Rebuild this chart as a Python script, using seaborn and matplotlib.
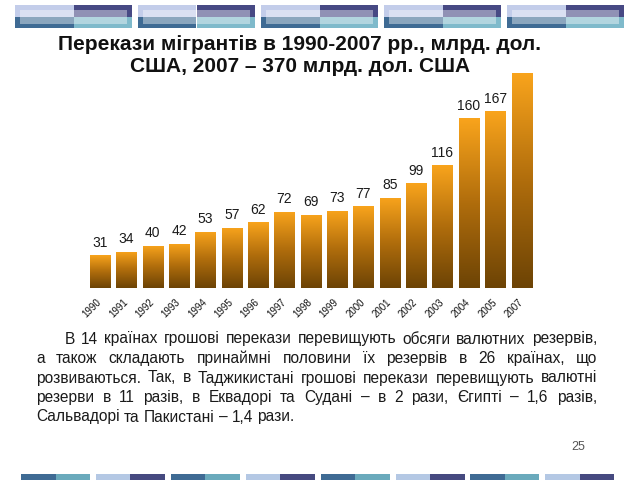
import matplotlib
matplotlib.use("Agg")
import matplotlib.pyplot as plt
import seaborn as sns
import numpy as np
from matplotlib.patches import Rectangle
from matplotlib.colors import LinearSegmentedColormap

# --- DATA ---
years = ["1990", "1991", "1992", "1993", "1994", "1995", "1996", "1997", "1998",
         "1999", "2000", "2001", "2002", "2003", "2004", "2005", "2007"]
remittances = [31, 34, 40, 42, 53, 57, 62, 72, 69, 73, 77, 85, 99, 116, 160, 167, 370]
shown_labels = ["31", "34", "40", "42", "53", "57", "62", "72", "69", "73", "77",
                "85", "99", "116", "160", "167", ""]

title_lines = ["Перекази мігрантів в 1990-2007 рр., млрд. дол.",
               "США, 2007 – 370 млрд. дол. США"]
paragraph = [
    "В 14 країнах грошові перекази перевищують обсяги валютних резервів,",
    "а також складають принаймні половини їх резервів в 26 країнах, що",
    "розвиваються. Так, в Таджикистані грошові перекази перевищують валютні",
    "резерви в 11 разів, в Еквадорі та Судані – в 2 рази, Єгипті – 1,6 разів,",
    "Сальвадорі та Пакистані – 1,4 рази.",
]
page_number = "25"

W, H = 640, 480

sns.set_theme(style="white")
plt.rcParams['font.family'] = ['Liberation Sans', 'DejaVu Sans']

fig = plt.figure(figsize=(6.4, 4.8), dpi=100)
fig.patch.set_facecolor("white")


def px(x, y, w=0, h=0):
    # pixel box (from top-left) -> figure fraction
    return [x / W, 1 - (y + h) / H, w / W, h / H]


# --- decorative strips (top) ---
for i in range(5):
    x0 = 15 + i * 123
    bw, top, bh = 117, 5, 23
    for (dx, dy, c) in [(0, 0, "#c3cdea"), (0, 1, "#3f6b94"),
                        (1, 0, "#474984"), (1, 1, "#7fbacb")]:
        b = px(x0 + dx * bw / 2, top + dy * bh / 2, bw / 2, bh / 2)
        fig.add_artist(Rectangle((b[0], b[1]), b[2], b[3], transform=fig.transFigure,
                                 facecolor=c, edgecolor="none"))
    b = px(x0 + 5, top + 5, bw - 10, bh - 9)
    fig.add_artist(Rectangle((b[0], b[1]), b[2], b[3], transform=fig.transFigure,
                             facecolor="white", alpha=0.4, edgecolor="none"))

# --- decorative strips (bottom) ---
for i in range(8):
    x0 = 21 + i * 74.9
    cols = ("#3f6b94", "#6aaabc") if i % 2 == 0 else ("#b4c8e4", "#464a80")
    for k, c in enumerate(cols):
        b = px(x0 + k * 34.5, 474, 34.5, 6)
        fig.add_artist(Rectangle((b[0], b[1]), b[2], b[3], transform=fig.transFigure,
                                 facecolor=c, edgecolor="none"))

# --- bar chart ---
ax = fig.add_axes(px(86.8, 74, 447.9, 214))
sns.barplot(x=years, y=remittances, ax=ax, width=0.76, color="#e8900c")
sns.despine(ax=ax, left=True, bottom=True)
ax.set_yticks([])
ax.set_xlabel("")
ax.set_ylabel("")
ax.tick_params(axis="x", length=0, pad=9)
for lab in ax.get_xticklabels():
    lab.set_rotation(45)
    lab.set_ha("right")
    lab.set_va("center")
    lab.set_rotation_mode("anchor")
    lab.set_fontsize(7)
    lab.set_color("#111111")

ax.set_xlim(-0.5, len(years) - 0.5)
ax.set_ylim(0, 202)
grad = LinearSegmentedColormap.from_list("bar", ["#6c4305", "#b06d0c", "#f9a41c"])
ytop = ax.get_ylim()[1]
for patch, lbl in zip(ax.patches, shown_labels):
    x0, y0 = patch.get_x(), patch.get_y()
    x1, y1 = x0 + patch.get_width(), min(y0 + patch.get_height(), ytop)
    img = ax.imshow(np.linspace(0, 1, 256).reshape(-1, 1), cmap=grad, origin="lower",
                    extent=[x0, x1, y0, y1], aspect="auto", zorder=2)
    img.set_clip_path(patch)
    patch.set_facecolor("none")
    if lbl:
        ax.annotate(lbl, (x0 + patch.get_width() / 2, y1), xytext=(0, 4),
                    textcoords="offset points", ha="center", va="bottom",
                    fontsize=10, color="#1a1a1a")
ax.set_xlim(-0.5, len(years) - 0.5)
ax.set_ylim(0, 202)

# --- title ---
for k, line in enumerate(title_lines):
    fig.text(300 / W, 1 - (44 + k * 23) / H, line, ha="center", va="center",
             fontsize=15, fontweight="bold", color="#111111")

# --- justified paragraph ---
renderer = fig.canvas.get_renderer()
left, right, indent = 36, 597, 29
line_y = [339, 358.5, 378, 397.5, 417]


def natural_width(words, size):
    t = fig.text(0, 0, " ".join(words), fontsize=size)
    w = t.get_window_extent(renderer).width
    t.remove()
    return w


size = 10
widest = max(natural_width(l.split(), size) + (indent if i == 0 else 0)
             for i, l in enumerate(paragraph))
size = size * (right - left) / widest * 0.985

for i, line in enumerate(paragraph):
    words = line.split()
    texts = [fig.text(0, 1 - line_y[i] / H, w, fontsize=size, va="center",
                      color="#1a1a1a") for w in words]
    widths = [t.get_window_extent(renderer).width for t in texts]
    x = left + (indent if i == 0 else 0)
    if i < len(paragraph) - 1:
        gap = (right - x - sum(widths)) / (len(words) - 1)
    else:
        gap = natural_width(["a", "a"], size) - 2 * natural_width(["a"], size)
    for t, w in zip(texts, widths):
        t.set_x(x / W)
        x += w + gap

fig.text(578 / W, 1 - 447 / H, page_number, ha="center", va="center",
         fontsize=9, color="#555555")

fig.savefig("out.png", dpi=100)
